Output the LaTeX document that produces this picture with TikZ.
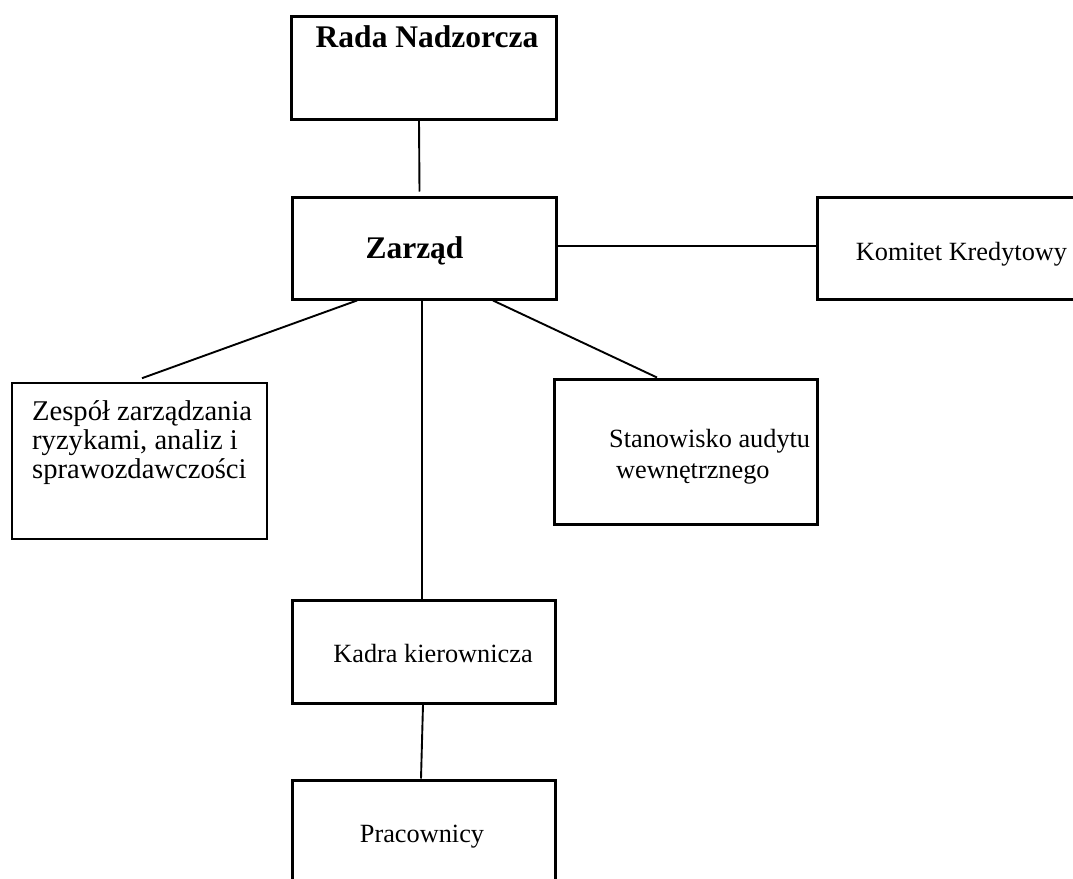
\documentclass[tikz,border=0pt]{standalone}
\usepackage{fontspec}
\setmainfont{Liberation Serif}
\begin{document}
\begin{tikzpicture}[x=1pt,y=-1pt,
  box/.style={draw=black,line width=3pt,rectangle,inner sep=0pt,fill=white},
  thinbox/.style={draw=black,line width=1.6pt,rectangle,inner sep=0pt,fill=white},
  txt/.style={inner sep=0pt,font=\fontsize{26.3}{29}\selectfont},
  btxt/.style={inner sep=0pt,font=\fontsize{31.5}{34}\selectfont\bfseries},
  conn/.style={draw=black,line width=1.9pt}]
\useasboundingbox (0,0) rectangle (1073,878);
\clip (0,0) rectangle (1073,878);
% boxes
\node[box,minimum width=265pt,minimum height=103pt] (rada) at (423.5,67.5) {};
\node[box,minimum width=264pt,minimum height=102pt] (zarzad) at (424,248) {};
\node[box,minimum width=263pt,minimum height=102pt] (komitet) at (948.5,248) {};
\node[thinbox,minimum width=255pt,minimum height=156pt] (zespol) at (139.5,461) {};
\node[box,minimum width=263pt,minimum height=145pt] (stan) at (685.5,451.5) {};
\node[box,minimum width=263pt,minimum height=103pt] (kadra) at (423.5,651.5) {};
\node[box,minimum width=263pt,minimum height=103pt] (prac) at (423.5,831.5) {};
% texts
\node[btxt,anchor=base] (radat) at (427,47) {Rada Nadzorcza};
\node[btxt,anchor=base] (zarzadt) at (414.5,258) {Zarząd};
\node[txt,anchor=base] (komitett) at (961.5,260) {Komitet Kredytowy};
\node[txt,anchor=base west,align=left,font=\fontsize{28.6}{29}\selectfont] (zespolt) at (32,478) {Zespół zarządzania\\ryzykami, analiz i\\sprawozdawczości};
\node[txt,anchor=base west,align=left,font=\fontsize{26.3}{31}\selectfont] (stant) at (609,478) {Stanowisko audytu\\\hspace*{7pt}wewnętrznego};
\node[txt,anchor=base] (kadrat) at (433,662) {Kadra kierownicza};
\node[txt,anchor=base] (pract) at (422,842) {Pracownicy};
% connectors
\draw[conn] ([xshift=-4.5pt]rada.south) -- ([xshift=-4.5pt,yshift=4pt]zarzad.north);
\draw[conn] ([yshift=2pt]zarzad.east) -- ([yshift=2pt]komitet.west);
\draw[conn] ([xshift=-67pt]zarzad.south) -- ([xshift=2.5pt,yshift=4pt]zespol.north);
\draw[conn] ([xshift=-2pt]zarzad.south) -- ([xshift=-1.5pt]kadra.north);
\draw[conn] ([xshift=69pt]zarzad.south) -- ([xshift=-28.5pt]stan.north);
\draw[conn] ([xshift=-0.5pt]kadra.south) -- ([xshift=-2.5pt]prac.north);
\end{tikzpicture}
\end{document}
